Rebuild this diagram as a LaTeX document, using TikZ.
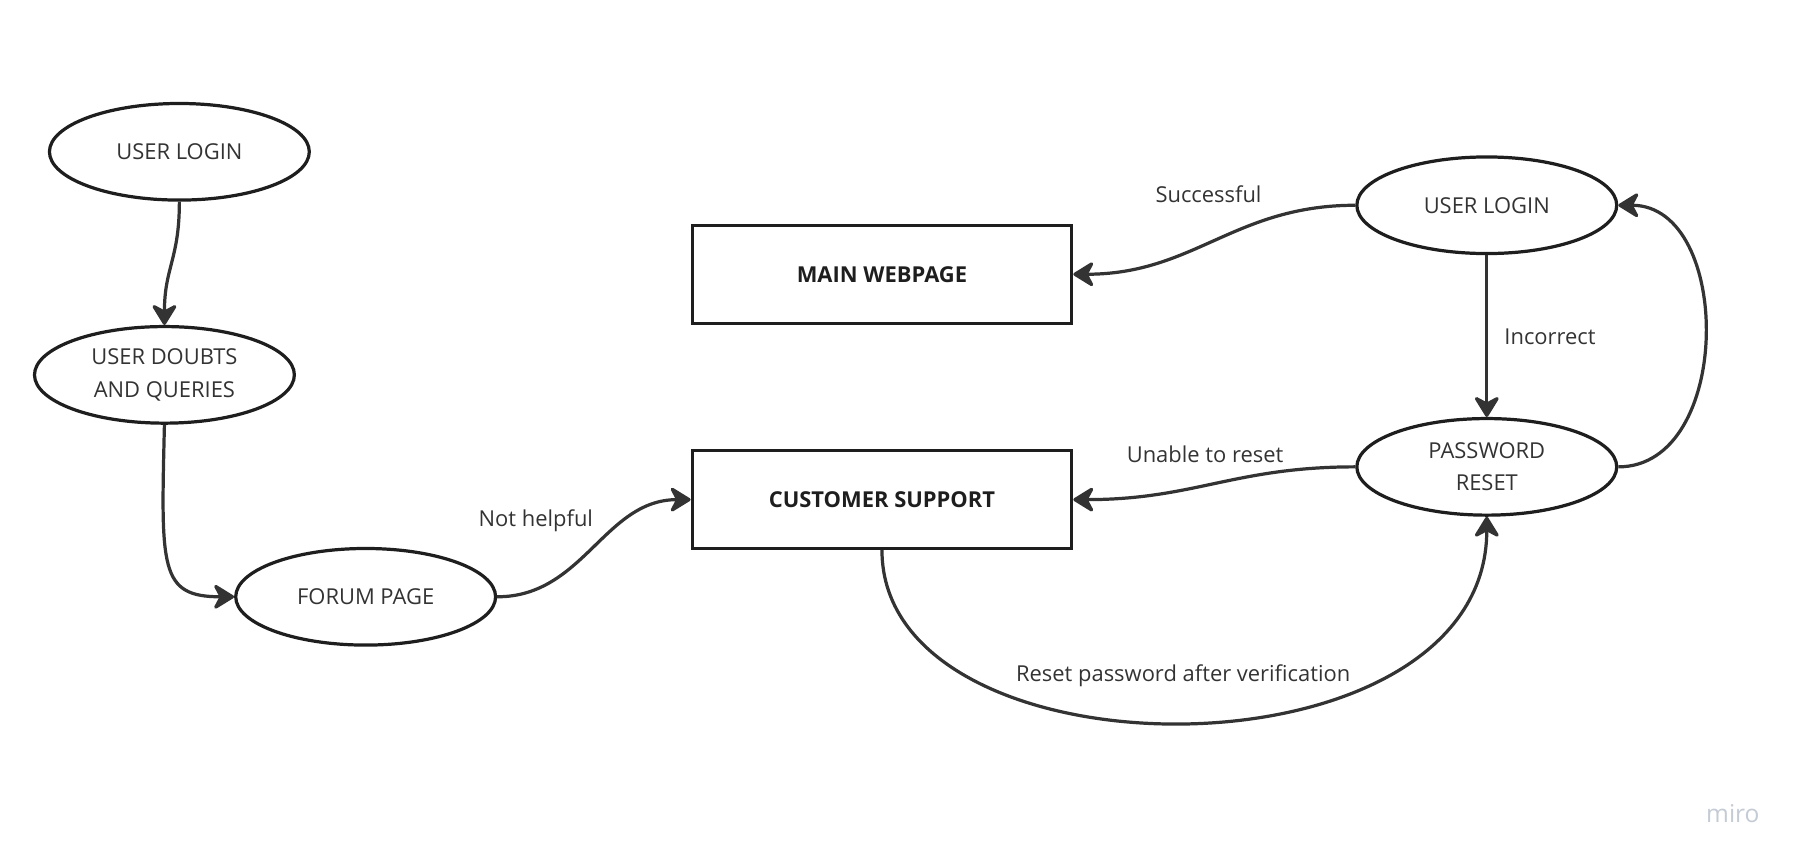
\documentclass[tikz,border=0pt]{standalone}
\usepackage{fontspec}
\setmainfont{Open Sans}
\usetikzlibrary{shapes.geometric,arrows.meta}

\definecolor{nodeink}{RGB}{30,30,30}
\definecolor{lineink}{RGB}{51,51,51}
\definecolor{textink}{RGB}{51,51,51}
\definecolor{miroink}{RGB}{196,203,212}
\newcommand{\dfdfont}{\fontsize{14.3}{21}\selectfont}

\tikzset{every picture/.style={line width=2.1pt}}
\tikzset{
  process/.style={ellipse, draw=nodeink, line width=2.1pt, minimum width=169.5pt, minimum height=63pt, inner sep=0pt, align=center, text=textink, font=\dfdfont},
  store/.style={rectangle, draw=nodeink, line width=2.1pt, minimum width=247.5pt, minimum height=63.75pt, inner sep=0pt, text=nodeink, font=\dfdfont\bfseries},
  flow/.style={draw=lineink, line width=2.1pt, -{Stealth[length=15.5pt,width=19pt,inset=5pt,round]}},
  flowlabel/.style={text=textink, font=\dfdfont, inner sep=0.75pt},
}

\begin{document}
\begin{tikzpicture}[x=0.75pt,y=0.75pt,yscale=-1,xscale=1]
\useasboundingbox (0,0) rectangle (1568,753); %diagram is 1568 wide and 753 high

%Shape: Ellipse [id:userlogin] 
\node [process] (userlogin) at (156,132) {USER LOGIN};
%Shape: Ellipse [id:doubts] 
\node [process] (doubts) at (143,326) {USER DOUBTS\\AND QUERIES};
%Shape: Ellipse [id:forum] 
\node [process] (forum) at (318,519) {FORUM PAGE};
%Shape: Rectangle [id:mainpage] 
\node [store] (mainpage) at (767,238.5) {MAIN WEBPAGE};
%Shape: Rectangle [id:support] 
\node [store] (support) at (767,434.5) {CUSTOMER SUPPORT};
%Shape: Ellipse [id:login] 
\node [process] (login) at (1293,178.5) {USER LOGIN};
%Shape: Ellipse [id:reset] 
\node [process] (reset) at (1293,406) {PASSWORD\\RESET};

%Curve Lines [id:flows] 
\draw [flow] (userlogin.south) .. controls +(0,50) and +(0,-50) .. (doubts.north) ;
\draw [flow] (doubts.south) .. controls +(-3,125) and +(-65,0) .. (forum.west) ;
\draw [flow] (forum.east) .. controls +(75,0) and +(-75,0) .. (support.west) ;
\draw [flow] (login.west) .. controls +(-105,0) and +(105,0) .. (mainpage.east) ;
\draw [flow] (login.south) -- (reset.north) ;
\draw [flow] (reset.west) .. controls +(-105,0) and +(105,0) .. (support.east) ;
\draw [flow] (reset.east) .. controls +(100,0) and +(100,0) .. (login.east) ;
\draw [flow] (support.south) .. controls +(0,204) and +(0,234) .. (reset.south) ;

% Text Node
\node [flowlabel] (lblok) at (1051,169) {Successful};
% Text Node
\node [flowlabel] (lblwrong) at (1348,293) {Incorrect};
% Text Node
\node [flowlabel] (lblunable) at (1048,395) {Unable to reset};
% Text Node
\node [flowlabel] (lblnothelp) at (466,453) {Not helpful};
% Text Node
\node [flowlabel] (lblverify) at (1029,588) {Reset password after verification};
% Text Node
\node [text=miroink, font=\fontsize{16}{16}\selectfont, inner sep=0.75pt] (miro) at (1507,708) {miro};

\end{tikzpicture}
\end{document}
